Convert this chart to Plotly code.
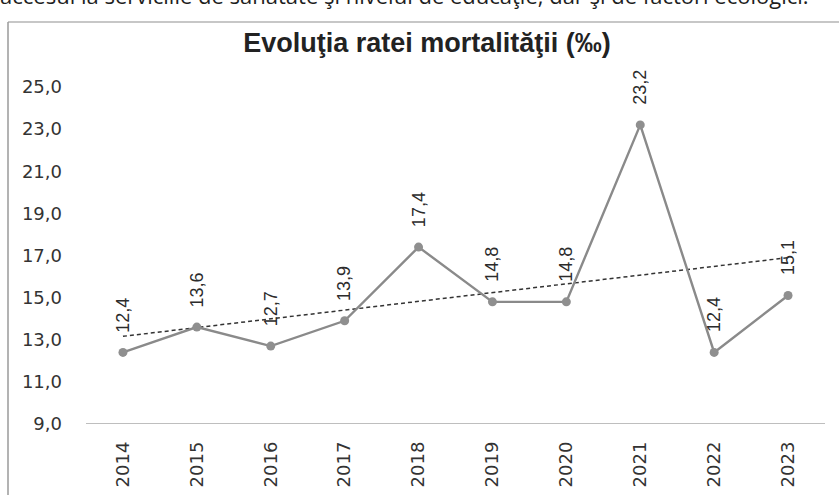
import numpy as np
import plotly.graph_objects as go

years = ['2014', '2015', '2016', '2017', '2018', '2019', '2020', '2021', '2022', '2023']
rates = [12.4, 13.6, 12.7, 13.9, 17.4, 14.8, 14.8, 23.2, 12.4, 15.1]
y_ticks = [9, 11, 13, 15, 17, 19, 21, 23, 25]

title = 'Evoluţia ratei mortalităţii (‰)'
top_line = 'accesul la serviciile de sănătate şi nivelul de educaţie, dar şi de factori ecologici.'

W, H = 839, 495
ML, MR, MT, MB = 86, 14, 87, 71
pw, ph = W - ML - MR, H - MT - MB


def px_x(p):
    return (p - ML) / pw


def px_y(p):
    return 1 + (MT - p) / ph


# linear trend (Excel-style trendline)
idx = np.arange(1, len(rates) + 1)
slope, icept = np.polyfit(idx, rates, 1)
trend = slope * idx + icept

fig = go.Figure()

fig.add_trace(go.Scatter(
    x=years, y=trend, mode='lines',
    line=dict(color='#333333', width=1.5, dash='4px,3px'),
    hoverinfo='skip'))

fig.add_trace(go.Scatter(
    x=years, y=rates, mode='lines+markers',
    line=dict(color='#8a8a8a', width=2.4),
    marker=dict(size=9, color='#8f8f8f'),
    cliponaxis=False))

# data labels, placed by category index
for i, v in enumerate(rates):
    fig.add_annotation(
        x=i, y=v, text=f'{v:.1f}'.replace('.', ','),
        textangle=-90, showarrow=False, yanchor='bottom', yshift=18,
        font=dict(family='Liberation Sans, Arial', size=18, color='#2b2b2b'))

fig.add_annotation(
    xref='paper', yref='paper', x=px_x(-2), y=px_y(12),
    xanchor='left', yanchor='bottom', showarrow=False,
    text=top_line, font=dict(family='Open Sans, Liberation Sans', size=22, color='#1e1e1e'))

# chart frame (top and left edges visible in the scan)
fig.add_shape(type='line', xref='paper', yref='paper',
              x0=px_x(8), x1=px_x(845), y0=px_y(22), y1=px_y(22),
              line=dict(color='#b5b5b5', width=1.5))
fig.add_shape(type='line', xref='paper', yref='paper',
              x0=px_x(8), x1=px_x(8), y0=px_y(22), y1=px_y(500),
              line=dict(color='#9a9a9a', width=1.5))

fig.update_layout(
    width=W, height=H,
    margin=dict(l=ML, r=MR, t=MT, b=MB),
    paper_bgcolor='white', plot_bgcolor='white',
    separators=',.',
    showlegend=False,
    title=dict(text='<b>' + title + '</b>', xref='container', x=427 / W, xanchor='center',
               y=1 - 43 / H, yanchor='middle',
               font=dict(family='Liberation Sans, Arial', size=27, color='#222222')),
    xaxis=dict(
        type='category', range=[-0.5, 9.5], tickangle=-90, automargin=False,
        showgrid=False, zeroline=False, showline=False, ticks='',
        ticklabelstandoff=13,
        tickfont=dict(family='DejaVu Sans', size=18, color='#333333')),
    yaxis=dict(
        range=[9, 25], tickvals=y_ticks, tickformat='.1f', automargin=False,
        showgrid=False, zeroline=False, showline=False, ticks='',
        ticklabelstandoff=23,
        tickfont=dict(family='DejaVu Sans', size=18, color='#333333')),
)

fig.add_shape(type='line', xref='paper', yref='y', x0=0, x1=1, y0=9, y1=9,
              line=dict(color='#a8a8a8', width=1.5))

fig.write_html('out.html', config={'displayModeBar': False},
               post_script="document.body.style.margin='0';")
